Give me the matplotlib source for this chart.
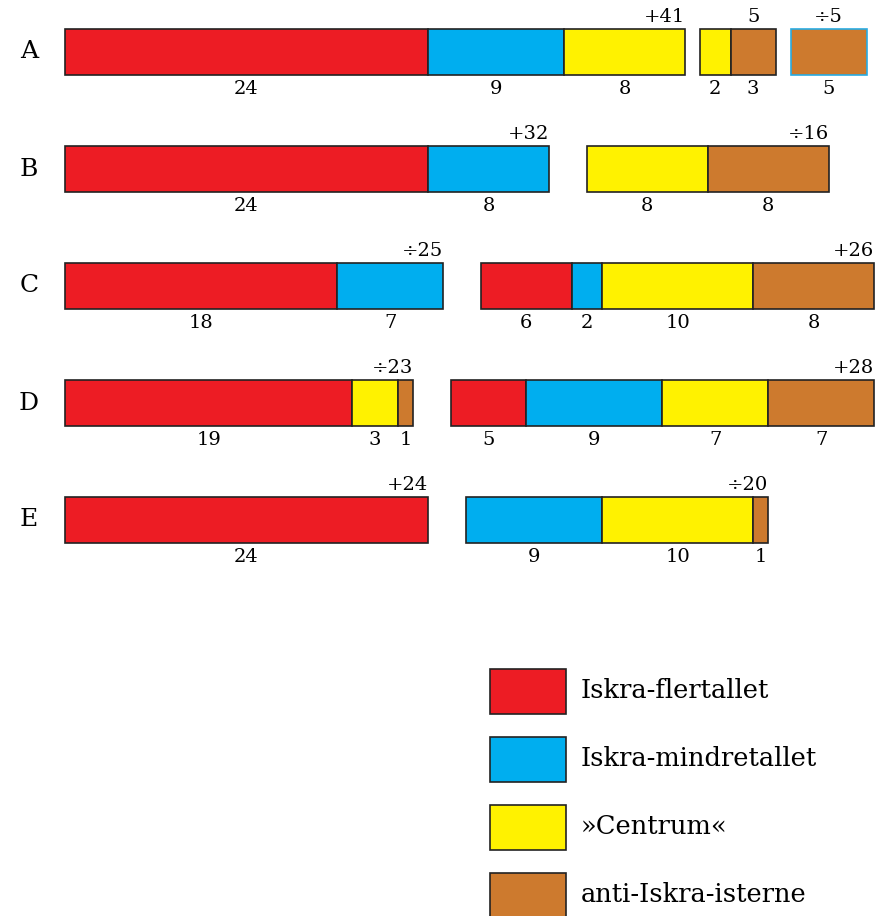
import matplotlib.pyplot as plt
from matplotlib.patches import Rectangle

# data
rows = ["A", "B", "C", "D", "E"]
parties = ["Iskra-flertallet", "Iskra-mindretallet", "»Centrum«", "anti-Iskra-isterne"]
colors = ["#ED1C24", "#00AEEF", "#FFF200", "#CD7A2E"]

# each group: list of (party index, votes)
groups = {
    "A": [[(0, 24), (1, 9), (2, 8)], [(2, 2), (3, 3)], [(3, 5)]],
    "B": [[(0, 24), (1, 8)], [(2, 8), (3, 8)]],
    "C": [[(0, 18), (1, 7)], [(0, 6), (1, 2), (2, 10), (3, 8)]],
    "D": [[(0, 19), (2, 3), (3, 1)], [(0, 5), (1, 9), (2, 7), (3, 7)]],
    "E": [[(0, 24)], [(1, 9), (2, 10), (3, 1)]],
}
top_labels = {
    "A": ["+41", "5", "÷5"],
    "B": ["+32", "÷16"],
    "C": ["÷25", "+26"],
    "D": ["÷23", "+28"],
    "E": ["+24", "÷20"],
}

W, H = 889, 916
px_unit = 15.125
x0 = 65
row_px = 117
y0 = 52

fig = plt.figure(figsize=(W / 100, H / 100), dpi=100)
ax = fig.add_axes([0, 0, 1, 1])
ax.set_xlim(-x0 / px_unit, (W - x0) / px_unit)
ax.set_ylim((H - y0) / row_px, -y0 / row_px)
ax.axis("off")

font = "DejaVu Serif"
bar_h = 46 / row_px

for i, r in enumerate(rows):
    ax.text(-36 / px_unit, i, r, ha="center", va="center", fontsize=18, family=font)
    gap = 1 if r == "A" else 2.5
    start = 0
    for g, grp in enumerate(groups[r]):
        left = start
        segs = []
        for p, v in grp:
            edge = "#29ABE2" if (r == "A" and g == 2) else "#222222"
            ax.barh(i, v, left=left, height=bar_h, color=colors[p],
                    edgecolor=edge, linewidth=1.2)
            ax.text(left + v / 2, i + bar_h / 2 + 14 / row_px, str(v),
                    ha="center", va="center", fontsize=14, family=font)
            segs.append((left, v))
            left += v
        lab = top_labels[r][g]
        ty = i - bar_h / 2 - 3 / row_px
        if r == "A" and g > 0:
            sl, sv = segs[-1]
            ax.text(sl + sv / 2, ty, lab, ha="center", va="bottom",
                    fontsize=14, family=font)
        else:
            ax.text(left, ty, lab, ha="right", va="bottom",
                    fontsize=14, family=font)
        start = left + gap

# legend
for k, name in enumerate(parties):
    top = 669 + k * 68
    fig.add_artist(Rectangle((490 / W, 1 - (top + 45) / H), 76 / W, 45 / H,
                             transform=fig.transFigure, facecolor=colors[k],
                             edgecolor="#222222", linewidth=1.2))
    fig.text(581 / W, 1 - (top + 22) / H, name, ha="left", va="center",
             fontsize=18.5, family=font)

fig.savefig("out.png", dpi=100)
